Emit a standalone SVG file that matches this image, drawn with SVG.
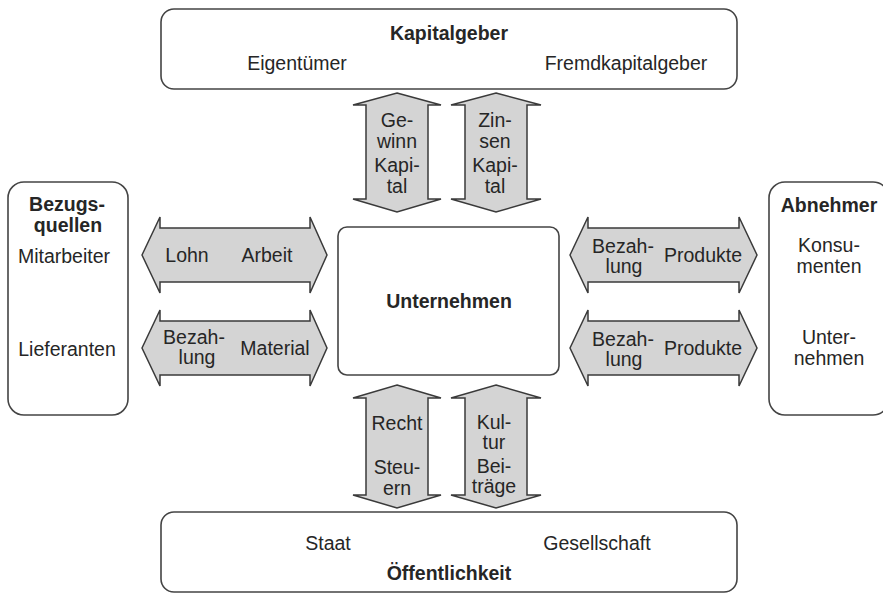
<svg xmlns="http://www.w3.org/2000/svg" width="883" height="594" viewBox="0 0 883 594">
<style>
.box{fill:#fff;stroke:#444;stroke-width:1.6}
.arr{fill:#d4d4d4;stroke:#3a3a3a;stroke-width:1.5;stroke-linejoin:miter}
text{font-family:"Liberation Sans",Arial,sans-serif;font-size:19.5px;fill:#262626;text-anchor:middle}
.b{font-weight:bold}
</style>
<rect width="883" height="594" fill="#fff"/>
<g id="connectors">
<path class="arr" d="M397,93 L441,105 L428,105 L428,199 L441,199 L397,212 L353,199 L366,199 L366,105 L353,105 Z"/>
<path class="arr" d="M496,93 L541,105 L527,105 L527,199 L541,199 L496,212 L451,199 L465,199 L465,105 L451,105 Z"/>
<path class="arr" d="M397,385 L441,398 L428,398 L428,495 L441,495 L397,508 L353,495 L366,495 L366,398 L353,398 Z"/>
<path class="arr" d="M496,385 L541,398 L527,398 L527,495 L541,495 L496,508 L451,495 L465,495 L465,398 L451,398 Z"/>
<path class="arr" d="M142,255 L160,217 L160,228 L310,228 L310,217 L327,255 L310,293 L310,282 L160,282 L160,293 Z"/>
<path class="arr" d="M142,348 L160,310 L160,321 L310,321 L310,310 L327,348 L310,386 L310,375 L160,375 L160,386 Z"/>
<path class="arr" d="M570,255 L588,217 L588,228 L739,228 L739,217 L757,255 L739,293 L739,282 L588,282 L588,293 Z"/>
<path class="arr" d="M570,348 L588,310 L588,321 L739,321 L739,310 L757,348 L739,386 L739,375 L588,375 L588,386 Z"/>
<text x="397" y="127">Ge-</text>
<text x="397" y="148">winn</text>
<text x="397" y="172">Kapi-</text>
<text x="397" y="193">tal</text>
<text x="495" y="127">Zin-</text>
<text x="495" y="148">sen</text>
<text x="495" y="172">Kapi-</text>
<text x="495" y="193">tal</text>
<text x="397" y="430">Recht</text>
<text x="397" y="474">Steu-</text>
<text x="397" y="495">ern</text>
<text x="494" y="429">Kul-</text>
<text x="494" y="449">tur</text>
<text x="494" y="473">Bei-</text>
<text x="494" y="493">träge</text>
<text x="187" y="262">Lohn</text>
<text x="267" y="262">Arbeit</text>
<text x="194" y="344">Bezah-</text>
<text x="197" y="364">lung</text>
<text x="275" y="355">Material</text>
<text x="623" y="253">Bezah-</text>
<text x="624" y="273">lung</text>
<text x="703" y="262">Produkte</text>
<text x="623" y="346">Bezah-</text>
<text x="624" y="366">lung</text>
<text x="703" y="355">Produkte</text>
</g>
<g id="kapitalgeber">
<rect class="box" x="161" y="9" width="576" height="80" rx="13"/>
<text class="b" x="449" y="40">Kapitalgeber</text>
<text x="297" y="70">Eigentümer</text>
<text x="626" y="70">Fremdkapitalgeber</text>
</g>
<g id="unternehmen">
<rect class="box" x="338" y="227" width="221" height="148" rx="9"/>
<text class="b" x="449" y="308">Unternehmen</text>
</g>
<g id="bezugsquellen">
<rect class="box" x="8" y="182" width="120" height="233" rx="16"/>
<text class="b" x="67" y="211">Bezugs-</text>
<text class="b" x="68" y="232">quellen</text>
<text x="64" y="263">Mitarbeiter</text>
<text x="67" y="356">Lieferanten</text>
</g>
<g id="abnehmer">
<rect class="box" x="769" y="182" width="120" height="233" rx="16"/>
<text class="b" x="829" y="212">Abnehmer</text>
<text x="829" y="252">Konsu-</text>
<text x="829" y="273">menten</text>
<text x="829" y="344">Unter-</text>
<text x="829" y="365">nehmen</text>
</g>
<g id="oeffentlichkeit">
<rect class="box" x="161" y="512" width="576" height="80" rx="13"/>
<text x="328" y="550">Staat</text>
<text x="597" y="550">Gesellschaft</text>
<text class="b" x="449" y="580">Öffentlichkeit</text>
</g>
</svg>
